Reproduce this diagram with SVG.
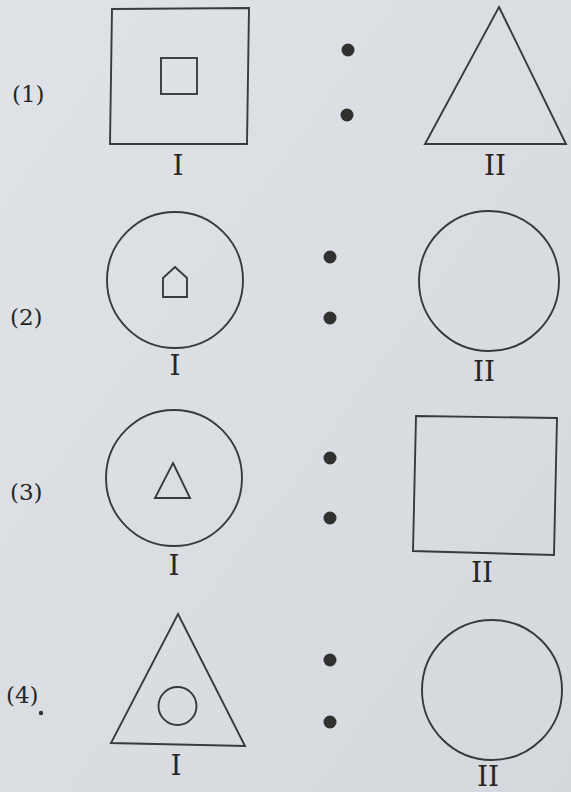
<svg xmlns="http://www.w3.org/2000/svg" width="571" height="792" viewBox="0 0 571 792">
<defs>
<style>
.ln{fill:none;stroke:#3a3a3a;stroke-width:1.9;stroke-linejoin:miter}
.dot{fill:#303030}
.lab{font-family:"DejaVu Serif","Liberation Serif",serif;fill:#262626}
.num{font-size:23px}
.rom{font-size:28px;text-anchor:middle}
</style>
<linearGradient id="g" x1="0" y1="0" x2="1" y2="1">
<stop offset="0" stop-color="#dfe2e6"/>
<stop offset="1" stop-color="#d5d9de"/>
</linearGradient>
</defs>
<rect x="0" y="0" width="571" height="792" fill="url(#g)"/>

<g id="row1">
<text class="lab num" x="12" y="102">(1)</text>
<g id="r1-fig1">
<polygon class="ln" points="112,9 249,8 247,144 110,144"/>
<rect class="ln" x="161" y="58" width="36" height="36"/>
<text class="lab rom" x="178" y="175">I</text>
</g>
<g id="r1-sep"><circle class="dot" cx="348" cy="50" r="6.5"/><circle class="dot" cx="347" cy="115" r="6.5"/></g>
<g id="r1-fig2">
<polygon class="ln" points="499,7 566,144 425,144"/>
<text class="lab rom" x="495" y="175">II</text>
</g>
</g>

<g id="row2">
<text class="lab num" x="10" y="325">(2)</text>
<g id="r2-fig1">
<circle class="ln" cx="175" cy="280" r="68"/>
<polygon class="ln" points="175,267 187,278 187,297 163,297 163,278"/>
<text class="lab rom" x="175" y="375">I</text>
</g>
<g id="r2-sep"><circle class="dot" cx="330" cy="257" r="6.5"/><circle class="dot" cx="330" cy="318" r="6.5"/></g>
<g id="r2-fig2">
<circle class="ln" cx="489" cy="281" r="70"/>
<text class="lab rom" x="484" y="381">II</text>
</g>
</g>

<g id="row3">
<text class="lab num" x="10" y="500">(3)</text>
<g id="r3-fig1">
<circle class="ln" cx="174" cy="478" r="68"/>
<polygon class="ln" points="173,463 190,498 155,498"/>
<text class="lab rom" x="174" y="575">I</text>
</g>
<g id="r3-sep"><circle class="dot" cx="330" cy="458" r="6.5"/><circle class="dot" cx="330" cy="518" r="6.5"/></g>
<g id="r3-fig2">
<polygon class="ln" points="416,416 557,418 554,555 413,551"/>
<text class="lab rom" x="482" y="582">II</text>
</g>
</g>

<g id="row4">
<text class="lab num" x="6" y="703">(4)</text>
<circle class="dot" cx="41" cy="713" r="2.2"/>
<g id="r4-fig1">
<polygon class="ln" points="178,614 245,746 111,743"/>
<circle class="ln" cx="177.5" cy="706" r="19"/>
<text class="lab rom" x="176" y="775">I</text>
</g>
<g id="r4-sep"><circle class="dot" cx="330" cy="660" r="6.5"/><circle class="dot" cx="330" cy="722" r="6.5"/></g>
<g id="r4-fig2">
<circle class="ln" cx="492" cy="690" r="70"/>
<text class="lab rom" x="488" y="786">II</text>
</g>
</g>
</svg>
